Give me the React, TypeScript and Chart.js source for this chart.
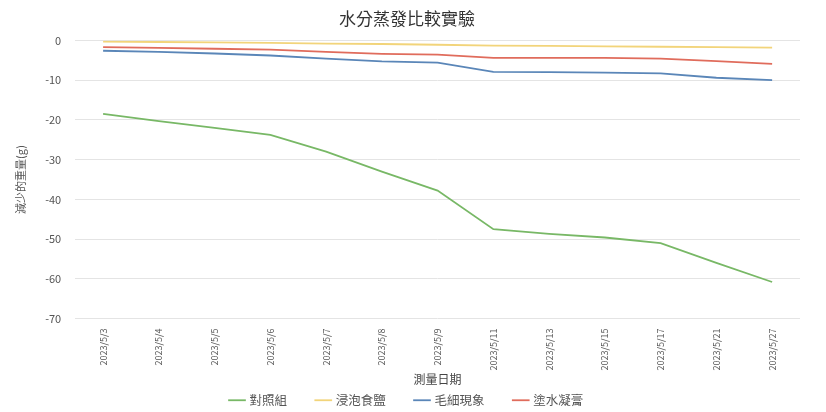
import React, { useEffect, useRef } from "react";
import { Chart, registerables } from "chart.js";

Chart.register(...registerables);

const labels = [
  "2023/5/3", "2023/5/4", "2023/5/5", "2023/5/6", "2023/5/7", "2023/5/8", "2023/5/9",
  "2023/5/11", "2023/5/13", "2023/5/15", "2023/5/17", "2023/5/21", "2023/5/27",
];
const controlGroup = [-18.5, -20.3, -22, -23.8, -28, -33, -37.8, -47.5, -48.7, -49.6, -51, -56, -60.8];
const saltSoak = [-0.3, -0.4, -0.5, -0.6, -0.8, -0.9, -1.1, -1.3, -1.4, -1.5, -1.6, -1.7, -1.8];
const capillary = [-2.6, -2.9, -3.3, -3.8, -4.6, -5.3, -5.6, -7.9, -8.0, -8.1, -8.3, -9.4, -10];
const gelCoat = [-1.7, -1.9, -2.1, -2.3, -2.9, -3.4, -3.6, -4.4, -4.4, -4.4, -4.6, -5.2, -5.9];
const seriesNames = ["對照組", "浸泡食鹽", "毛細現象", "塗水凝膏"];
const yTicks = [0, -10, -20, -30, -40, -50, -60, -70];

const FONT = "'Noto Sans CJK TC', 'Noto Sans', sans-serif";
const LEGEND_PAD = 30;

const compactLegend = {
  id: "compactLegend",
  afterInit(chart: any) {
    const legend = chart.legend;
    if (!legend) return;
    const orig = legend.fit.bind(legend);
    legend.fit = function () {
      orig();
      this.height = 16;
    };
  },
  afterLayout(chart: any) {
    const legend = chart.legend;
    if (!legend) return;
    legend.top = 394 - LEGEND_PAD;
  },
};

export default function App() {
  const ref = useRef<HTMLCanvasElement | null>(null);
  useEffect(() => {
    document.body.style.margin = "0";
    const ctx = ref.current!;
    const mk = (label: string, data: number[], color: string, order: number) => ({
      label,
      data,
      borderColor: color,
      backgroundColor: color,
      borderWidth: 1.8,
      pointRadius: 0,
      tension: 0,
      order,
    });
    const chart = new Chart(ctx, {
      type: "line",
      data: {
        labels,
        datasets: [
          mk(seriesNames[0], controlGroup, "#78b866", 1),
          mk(seriesNames[1], saltSoak, "#f2d47a", 2),
          mk(seriesNames[2], capillary, "#5a86b8", 3),
          mk(seriesNames[3], gelCoat, "#e06c5c", 4),
        ],
      },
      plugins: [compactLegend],
      options: {
        responsive: false,
        animation: false,
        layout: { padding: { left: 14, right: 26, top: 4, bottom: 0 } },
        plugins: {
          title: {
            display: true,
            text: "水分蒸發比較實驗",
            color: "#333",
            font: { family: FONT, size: 17, weight: "normal" },
            padding: { top: 4, bottom: 12 },
          },
          legend: {
            position: "bottom",
            labels: {
              usePointStyle: true,
              pointStyle: "line",
              boxWidth: 18,
              color: "#555",
              font: { family: FONT, size: 12.5 },
              padding: LEGEND_PAD,
            },
          },
          tooltip: { enabled: false },
        },
        scales: {
          x: {
            offset: true,
            grid: { display: false },
            border: { display: false },
            ticks: {
              color: "#555",
              font: { family: FONT, size: 9 },
              maxRotation: 90,
              minRotation: 90,
              autoSkip: false,
              padding: 2,
            },
            title: {
              display: true,
              text: "測量日期",
              color: "#444",
              font: { family: FONT, size: 12 },
              padding: { top: 0, bottom: 9 },
            },
          },
          y: {
            min: -70,
            max: 0,
            afterBuildTicks: (axis: any) => {
              axis.ticks = yTicks.map((v) => ({ value: v }));
            },
            grid: { color: "#e4e4e4", drawTicks: false },
            border: { display: false },
            ticks: {
              color: "#555",
              font: { family: FONT, size: 11 },
              padding: 14,
            },
            title: {
              display: true,
              text: "減少的重量(g)",
              color: "#555",
              font: { family: FONT, size: 11 },
              padding: { top: 0, bottom: 4 },
            },
          },
        },
      },
    });
    return () => chart.destroy();
  }, []);
  return (
    <div style={{ width: 826, height: 412, background: "#fff" }}>
      <canvas ref={ref} width={826} height={412} />
    </div>
  );
}
